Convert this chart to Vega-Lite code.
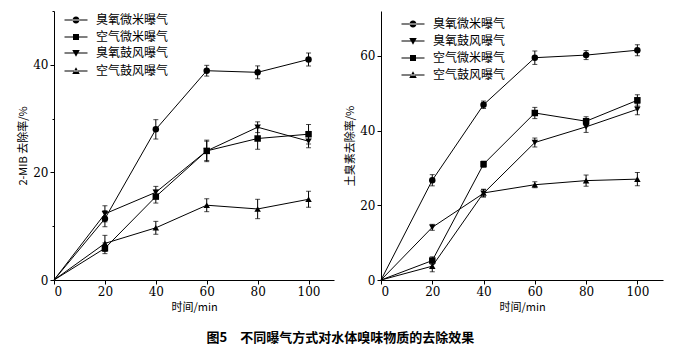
{
  "$schema": "https://vega.github.io/schema/vega-lite/v6.json",
  "padding": {"left": 17, "top": 10, "right": 5, "bottom": 5},
  "background": "white",
  "title": {"text": "图5　不同曝气方式对水体嗅味物质的去除效果", "orient": "bottom", "anchor": "middle", "font": "Noto Sans CJK SC", "fontSize": 13, "fontWeight": "bold", "color": "black", "offset": 20},
  "datasets": {
    "mib": [
      {"series": "臭氧微米曝气", "t": 0, "v": 0, "lo": null, "hi": null},
      {"series": "臭氧微米曝气", "t": 20, "v": 11.4, "lo": 9.9, "hi": 12.9},
      {"series": "臭氧微米曝气", "t": 40, "v": 28.0, "lo": 26.2, "hi": 29.8},
      {"series": "臭氧微米曝气", "t": 60, "v": 38.9, "lo": 37.9, "hi": 39.9},
      {"series": "臭氧微米曝气", "t": 80, "v": 38.6, "lo": 37.4, "hi": 39.8},
      {"series": "臭氧微米曝气", "t": 100, "v": 41.0, "lo": 39.8, "hi": 42.2},
      {"series": "空气微米曝气", "t": 0, "v": 0, "lo": null, "hi": null},
      {"series": "空气微米曝气", "t": 20, "v": 5.9, "lo": 4.9, "hi": 6.9},
      {"series": "空气微米曝气", "t": 40, "v": 15.5, "lo": 14.3, "hi": 16.7},
      {"series": "空气微米曝气", "t": 60, "v": 24.0, "lo": 22.0, "hi": 26.0},
      {"series": "空气微米曝气", "t": 80, "v": 26.3, "lo": 24.3, "hi": 28.3},
      {"series": "空气微米曝气", "t": 100, "v": 27.1, "lo": 25.3, "hi": 28.9},
      {"series": "臭氧鼓风曝气", "t": 0, "v": 0, "lo": null, "hi": null},
      {"series": "臭氧鼓风曝气", "t": 20, "v": 12.3, "lo": 10.8, "hi": 13.8},
      {"series": "臭氧鼓风曝气", "t": 40, "v": 16.3, "lo": 15.2, "hi": 17.4},
      {"series": "臭氧鼓风曝气", "t": 60, "v": 24.0, "lo": 22.2, "hi": 25.8},
      {"series": "臭氧鼓风曝气", "t": 80, "v": 28.4, "lo": 27.4, "hi": 29.4},
      {"series": "臭氧鼓风曝气", "t": 100, "v": 25.8, "lo": 24.6, "hi": 27.0},
      {"series": "空气鼓风曝气", "t": 0, "v": 0, "lo": null, "hi": null},
      {"series": "空气鼓风曝气", "t": 20, "v": 6.8, "lo": 5.3, "hi": 8.3},
      {"series": "空气鼓风曝气", "t": 40, "v": 9.7, "lo": 8.5, "hi": 10.9},
      {"series": "空气鼓风曝气", "t": 60, "v": 13.9, "lo": 12.7, "hi": 15.1},
      {"series": "空气鼓风曝气", "t": 80, "v": 13.2, "lo": 11.4, "hi": 15.0},
      {"series": "空气鼓风曝气", "t": 100, "v": 15.0, "lo": 13.5, "hi": 16.5}
    ],
    "geo": [
      {"series": "臭氧微米曝气", "t": 0, "v": 0, "lo": null, "hi": null},
      {"series": "臭氧微米曝气", "t": 20, "v": 26.7, "lo": 25.2, "hi": 28.2},
      {"series": "臭氧微米曝气", "t": 40, "v": 46.9, "lo": 45.9, "hi": 47.9},
      {"series": "臭氧微米曝气", "t": 60, "v": 59.5, "lo": 57.7, "hi": 61.3},
      {"series": "臭氧微米曝气", "t": 80, "v": 60.2, "lo": 59.0, "hi": 61.4},
      {"series": "臭氧微米曝气", "t": 100, "v": 61.5, "lo": 60.0, "hi": 63.0},
      {"series": "臭氧鼓风曝气", "t": 0, "v": 0, "lo": null, "hi": null},
      {"series": "臭氧鼓风曝气", "t": 20, "v": 14.1, "lo": 13.3, "hi": 14.9},
      {"series": "臭氧鼓风曝气", "t": 40, "v": 23.2, "lo": 22.2, "hi": 24.2},
      {"series": "臭氧鼓风曝气", "t": 60, "v": 36.8, "lo": 35.6, "hi": 38.0},
      {"series": "臭氧鼓风曝气", "t": 80, "v": 41.0, "lo": 39.5, "hi": 42.5},
      {"series": "臭氧鼓风曝气", "t": 100, "v": 45.7, "lo": 44.2, "hi": 47.2},
      {"series": "空气微米曝气", "t": 0, "v": 0, "lo": null, "hi": null},
      {"series": "空气微米曝气", "t": 20, "v": 5.2, "lo": 4.2, "hi": 6.2},
      {"series": "空气微米曝气", "t": 40, "v": 31.0, "lo": 30.2, "hi": 31.8},
      {"series": "空气微米曝气", "t": 60, "v": 44.7, "lo": 43.2, "hi": 46.2},
      {"series": "空气微米曝气", "t": 80, "v": 42.5, "lo": 41.3, "hi": 43.7},
      {"series": "空气微米曝气", "t": 100, "v": 48.1, "lo": 46.6, "hi": 49.6},
      {"series": "空气鼓风曝气", "t": 0, "v": 0, "lo": null, "hi": null},
      {"series": "空气鼓风曝气", "t": 20, "v": 3.7, "lo": 2.2, "hi": 5.2},
      {"series": "空气鼓风曝气", "t": 40, "v": 23.3, "lo": 22.3, "hi": 24.3},
      {"series": "空气鼓风曝气", "t": 60, "v": 25.5, "lo": 24.7, "hi": 26.3},
      {"series": "空气鼓风曝气", "t": 80, "v": 26.6, "lo": 25.1, "hi": 28.1},
      {"series": "空气鼓风曝气", "t": 100, "v": 27.0, "lo": 25.2, "hi": 28.8}
    ]
  },
  "spacing": 10,
  "hconcat": [
    {
      "width": 280,
      "height": 269,
      "data": {"name": "mib"},
      "layer": [
        {
          "mark": {"type": "line", "color": "black", "strokeWidth": 1},
          "encoding": {
            "x": {"field": "t", "type": "quantitative", "scale": {"domain": [0, 110], "nice": false},
              "axis": {"title": "时间/min", "values": [0, 10, 20, 30, 40, 50, 60, 70, 80, 90, 100, 110], "labelExpr": "datum.value % 20 === 0 && datum.value <= 100 ? datum.label : ''", "tickSize": {"condition": {"test": "datum.value % 20 === 0", "value": 4}, "value": 2}}},
            "y": {"field": "v", "type": "quantitative", "scale": {"domain": [0, 50], "nice": false},
              "axis": {"title": "2-MIB 去除率/%", "values": [0, 10, 20, 30, 40, 50], "labelExpr": "datum.value % 20 === 0 ? datum.label : ''", "tickSize": {"condition": {"test": "datum.value % 20 === 0", "value": 4}, "value": 2}}},
            "detail": {"field": "series"}
          }
        },
        {
          "transform": [{"filter": "datum.lo != null"}],
          "mark": {"type": "errorbar", "ticks": true, "color": "black"},
          "encoding": {
            "x": {"field": "t", "type": "quantitative", "title": "时间/min"},
            "y": {"field": "lo", "type": "quantitative", "title": "2-MIB 去除率/%"},
            "y2": {"field": "hi"}
          }
        },
        {
          "transform": [{"filter": "datum.t > 0"}],
          "mark": {"type": "point", "filled": true, "color": "black", "opacity": 1, "size": 42},
          "encoding": {
            "x": {"field": "t", "type": "quantitative", "title": "时间/min"},
            "y": {"field": "v", "type": "quantitative", "title": "2-MIB 去除率/%"},
            "shape": {"field": "series", "type": "nominal", "legend": null,
              "scale": {"domain": ["臭氧微米曝气", "空气微米曝气", "臭氧鼓风曝气", "空气鼓风曝气"], "range": ["circle", "square", "triangle-down", "triangle-up"]}}
          }
        },
        {
          "transform": [{"filter": "false"}],
          "mark": {"type": "point", "filled": true, "color": "black", "opacity": 1},
          "encoding": {
            "x": {"field": "t", "type": "quantitative", "title": "时间/min"},
            "y": {"field": "v", "type": "quantitative", "title": "2-MIB 去除率/%"},
            "shape": {"field": "series", "type": "nominal",
              "scale": {"domain": ["臭氧微米曝气", "空气微米曝气", "臭氧鼓风曝气", "空气鼓风曝气"],
                "range": ["M-2.3,-0.1H2.3V0.1H-2.3ZM-0.7,0A0.7,0.7 0 1,0 0.7,0A0.7,0.7 0 1,0 -0.7,0Z", "M-2.3,-0.1H2.3V0.1H-2.3ZM-0.6,-0.6H0.6V0.6H-0.6Z", "M-2.3,-0.1H2.3V0.1H-2.3ZM-0.75,-0.6H0.75L0,0.75Z", "M-2.3,-0.1H2.3V0.1H-2.3ZM-0.75,0.6H0.75L0,-0.75Z"]},
              "legend": {"title": null, "orient": "none", "legendX": 16, "legendY": 3, "symbolSize": 100, "labelOffset": 14, "rowPadding": 4, "symbolFillColor": "black", "symbolOpacity": 1}}
          }
        }
      ],
      "resolve": {"scale": {"shape": "independent"}}
    },
    {
      "width": 282,
      "height": 269,
      "data": {"name": "geo"},
      "layer": [
        {
          "mark": {"type": "line", "color": "black", "strokeWidth": 1},
          "encoding": {
            "x": {"field": "t", "type": "quantitative", "scale": {"domain": [0, 110], "nice": false},
              "axis": {"title": "时间/min", "values": [0, 10, 20, 30, 40, 50, 60, 70, 80, 90, 100, 110], "labelExpr": "datum.value % 20 === 0 && datum.value <= 100 ? datum.label : ''", "tickSize": {"condition": {"test": "datum.value % 20 === 0", "value": 4}, "value": 2}}},
            "y": {"field": "v", "type": "quantitative", "scale": {"domain": [0, 72], "nice": false},
              "axis": {"title": "土臭素去除率/%", "values": [0, 10, 20, 30, 40, 50, 60, 70], "labelExpr": "datum.value % 20 === 0 ? datum.label : ''", "tickSize": {"condition": {"test": "datum.value % 20 === 0", "value": 4}, "value": 2}}},
            "detail": {"field": "series"}
          }
        },
        {
          "transform": [{"filter": "datum.lo != null"}],
          "mark": {"type": "errorbar", "ticks": true, "color": "black"},
          "encoding": {
            "x": {"field": "t", "type": "quantitative", "title": "时间/min"},
            "y": {"field": "lo", "type": "quantitative", "title": "土臭素去除率/%"},
            "y2": {"field": "hi"}
          }
        },
        {
          "transform": [{"filter": "datum.t > 0"}],
          "mark": {"type": "point", "filled": true, "color": "black", "opacity": 1, "size": 42},
          "encoding": {
            "x": {"field": "t", "type": "quantitative", "title": "时间/min"},
            "y": {"field": "v", "type": "quantitative", "title": "土臭素去除率/%"},
            "shape": {"field": "series", "type": "nominal", "legend": null,
              "scale": {"domain": ["臭氧微米曝气", "臭氧鼓风曝气", "空气微米曝气", "空气鼓风曝气"], "range": ["circle", "triangle-down", "square", "triangle-up"]}}
          }
        },
        {
          "transform": [{"filter": "false"}],
          "mark": {"type": "point", "filled": true, "color": "black", "opacity": 1},
          "encoding": {
            "x": {"field": "t", "type": "quantitative", "title": "时间/min"},
            "y": {"field": "v", "type": "quantitative", "title": "土臭素去除率/%"},
            "shape": {"field": "series", "type": "nominal",
              "scale": {"domain": ["臭氧微米曝气", "臭氧鼓风曝气", "空气微米曝气", "空气鼓风曝气"],
                "range": ["M-2.3,-0.1H2.3V0.1H-2.3ZM-0.7,0A0.7,0.7 0 1,0 0.7,0A0.7,0.7 0 1,0 -0.7,0Z", "M-2.3,-0.1H2.3V0.1H-2.3ZM-0.75,-0.6H0.75L0,0.75Z", "M-2.3,-0.1H2.3V0.1H-2.3ZM-0.6,-0.6H0.6V0.6H-0.6Z", "M-2.3,-0.1H2.3V0.1H-2.3ZM-0.75,0.6H0.75L0,-0.75Z"]},
              "legend": {"title": null, "orient": "none", "legendX": 26, "legendY": 7, "symbolSize": 100, "labelOffset": 14, "rowPadding": 4, "symbolFillColor": "black", "symbolOpacity": 1}}
          }
        }
      ],
      "resolve": {"scale": {"shape": "independent"}}
    }
  ],
  "config": {
    "view": {"stroke": null},
    "axis": {"grid": false, "domainColor": "black", "tickColor": "black", "labelColor": "black", "labelFont": "DejaVu Serif", "labelFontSize": 12, "titleFont": "Noto Sans CJK SC", "titleFontSize": 11, "titleFontWeight": "normal", "titleColor": "black", "labelPadding": 2},
    "legend": {"labelFont": "Noto Sans CJK SC", "labelFontSize": 12, "labelColor": "black"}
  }
}
